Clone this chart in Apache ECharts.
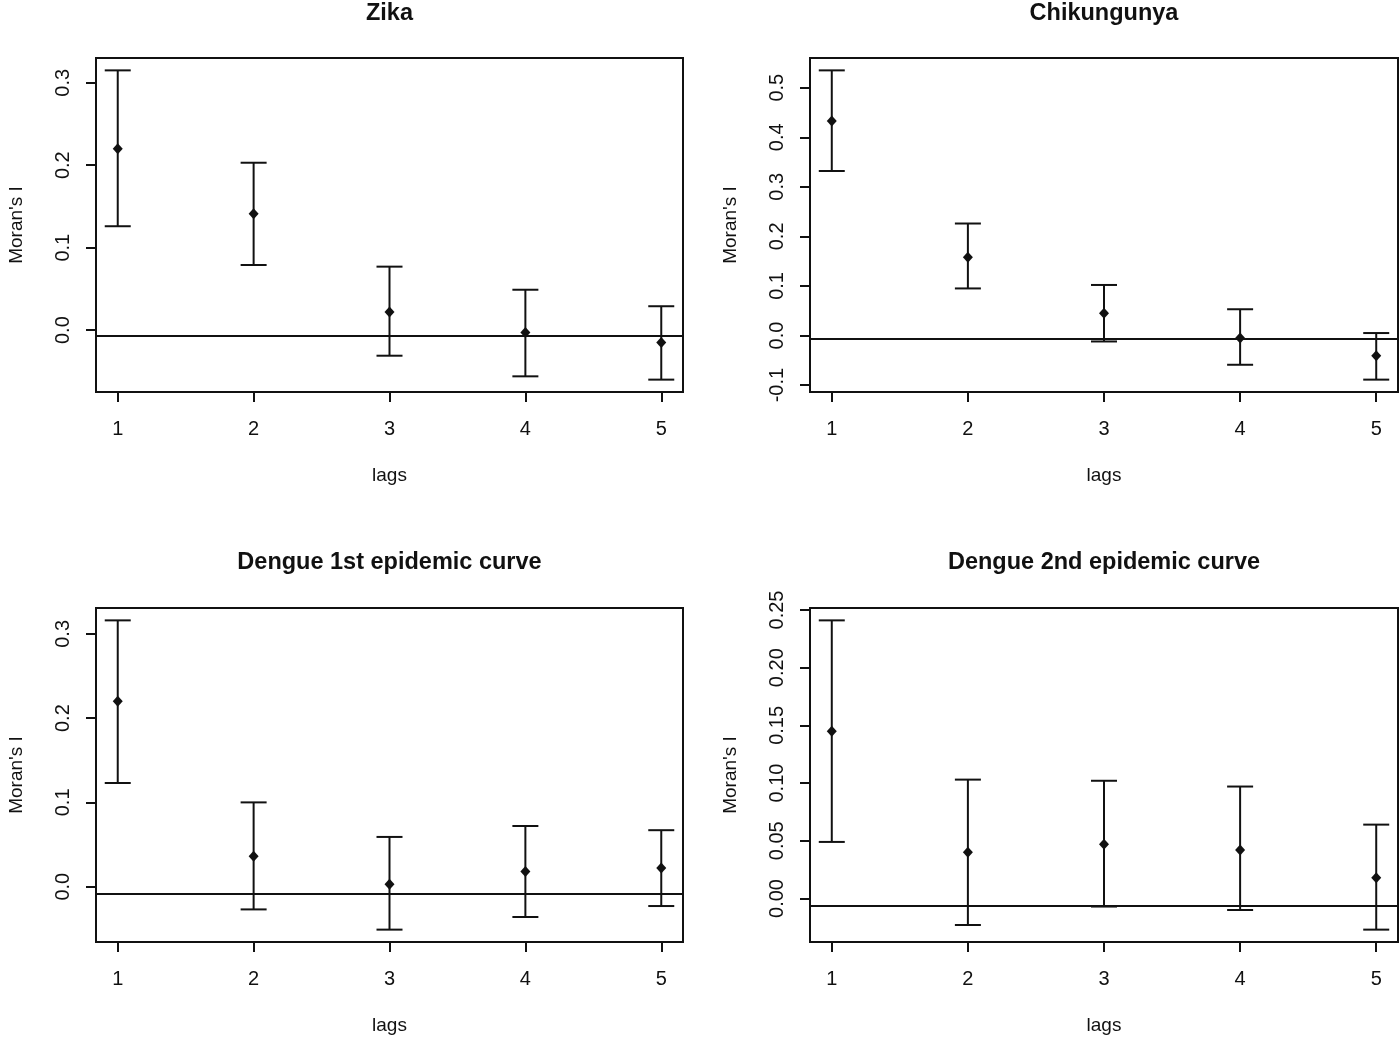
<!DOCTYPE html>
<html>
<head>
<meta charset="utf-8">
<script src="https://cdn.jsdelivr.net/npm/echarts@6/dist/echarts.min.js"></script>
<style>
html,body{margin:0;padding:0;background:#fff;}
#chart{width:1400px;height:1041px;}
</style>
</head>
<body>
<div id="chart"></div>
<script>
// ---- data ----
const lags = [1, 2, 3, 4, 5];

const panelTitles = ["Zika", "Chikungunya", "Dengue 1st epidemic curve", "Dengue 2nd epidemic curve"];

const zikaI  = [0.220, 0.141, 0.022, -0.003, -0.015];
const zikaLo = [0.126, 0.079, -0.031, -0.056, -0.060];
const zikaHi = [0.315, 0.203, 0.077, 0.049, 0.029];

const chikI  = [0.433, 0.158, 0.045, -0.005, -0.041];
const chikLo = [0.332, 0.095, -0.012, -0.059, -0.089];
const chikHi = [0.535, 0.226, 0.102, 0.053, 0.005];

const d1I  = [0.220, 0.036, 0.003, 0.018, 0.022];
const d1Lo = [0.123, -0.027, -0.051, -0.036, -0.023];
const d1Hi = [0.316, 0.100, 0.059, 0.072, 0.067];

const d2I  = [0.145, 0.040, 0.047, 0.042, 0.018];
const d2Lo = [0.049, -0.023, -0.007, -0.010, -0.027];
const d2Hi = [0.241, 0.103, 0.102, 0.097, 0.064];

const expectedI = [-0.0065, -0.0067, -0.0079, -0.0061];

const zikaTicks = [0, 0.1, 0.2, 0.3];
const chikTicks = [-0.1, 0, 0.1, 0.2, 0.3, 0.4, 0.5];
const d1Ticks   = [0, 0.1, 0.2, 0.3];
const d2Ticks   = [0, 0.05, 0.10, 0.15, 0.20, 0.25];
const tickDecimals = [1, 1, 1, 2];

const xLabel = "lags";
const yLabel = "Moran's I";

// ---- layout / styles ----
const FONT = "Liberation Sans, Arial, sans-serif";
const INK = "#111";
const grids = [
  {left: 96,  top: 58,  width: 587, height: 334},
  {left: 810, top: 58,  width: 588, height: 334},
  {left: 96,  top: 608, width: 587, height: 334},
  {left: 810, top: 608, width: 588, height: 334}
];
const titleTops = [2, 2, 551, 551];

const panels = [
  {I: zikaI, lo: zikaLo, hi: zikaHi, ticks: zikaTicks},
  {I: chikI, lo: chikLo, hi: chikHi, ticks: chikTicks},
  {I: d1I,   lo: d1Lo,   hi: d1Hi,   ticks: d1Ticks},
  {I: d2I,   lo: d2Lo,   hi: d2Hi,   ticks: d2Ticks}
];

function extendRange(lo, hi) {
  const span = hi - lo;
  return [lo - 0.04 * span, hi + 0.04 * span];
}

const xr = extendRange(Math.min.apply(null, lags), Math.max.apply(null, lags));

const option = {
  backgroundColor: "#fff",
  animation: false,
  title: [],
  grid: [],
  xAxis: [],
  yAxis: [],
  series: []
};

panels.forEach(function (p, i) {
  const g = grids[i];
  option.grid.push({
    left: g.left, top: g.top, width: g.width, height: g.height,
    show: true, borderColor: INK, borderWidth: 2, backgroundColor: "transparent",
    containLabel: false
  });
  option.title.push({
    text: panelTitles[i],
    left: g.left + g.width / 2,
    top: titleTops[i],
    textAlign: "center",
    padding: 0,
    textStyle: {fontFamily: FONT, fontSize: 23.5, fontWeight: "bold", color: INK}
  });
  option.xAxis.push({
    type: "value", gridIndex: i, min: xr[0], max: xr[1], position: "bottom",
    name: xLabel, nameLocation: "middle", nameGap: 74,
    nameTextStyle: {fontFamily: FONT, fontSize: 19, color: INK},
    axisLine: {show: false, onZero: false},
    axisTick: {show: true, inside: false, length: 10, customValues: lags, lineStyle: {color: INK, width: 2}},
    axisLabel: {show: true, customValues: lags, margin: 27, fontFamily: FONT, fontSize: 20, color: INK,
      formatter: function (v) { return String(Math.round(v)); }},
    splitLine: {show: false}
  });
  const yr = extendRange(Math.min.apply(null, p.lo), Math.max.apply(null, p.hi));
  const dec = tickDecimals[i];
  option.yAxis.push({
    type: "value", gridIndex: i, min: yr[0], max: yr[1], position: "left",
    name: yLabel, nameLocation: "middle", nameGap: 70, nameRotate: 90,
    nameTextStyle: {fontFamily: FONT, fontSize: 19, color: INK},
    axisLine: {show: false, onZero: false},
    axisTick: {show: true, inside: false, length: 10, customValues: p.ticks, lineStyle: {color: INK, width: 2}},
    axisLabel: {show: true, customValues: p.ticks, rotate: 90, margin: 23, fontFamily: FONT, fontSize: 20, color: INK,
      formatter: function (v) { return Number(v).toFixed(dec); }},
    splitLine: {show: false}
  });

  const barData = lags.map(function (x, k) { return [x, p.lo[k], p.hi[k]]; });
  option.series.push({
    type: "custom", xAxisIndex: i, yAxisIndex: i, data: barData, silent: true,
    renderItem: function (params, api) {
      const x = api.value(0);
      const a = api.coord([x, api.value(1)]);
      const b = api.coord([x, api.value(2)]);
      const half = 13;
      const st = {stroke: INK, lineWidth: 2};
      return {
        type: "group",
        children: [
          {type: "line", shape: {x1: a[0], y1: a[1], x2: b[0], y2: b[1]}, style: st},
          {type: "line", shape: {x1: a[0] - half, y1: a[1], x2: a[0] + half, y2: a[1]}, style: st},
          {type: "line", shape: {x1: b[0] - half, y1: b[1], x2: b[0] + half, y2: b[1]}, style: st}
        ]
      };
    },
    z: 3
  });
  option.series.push({
    type: "scatter", xAxisIndex: i, yAxisIndex: i, silent: true,
    data: lags.map(function (x, k) { return [x, p.I[k]]; }),
    symbol: "diamond", symbolSize: [10, 11],
    itemStyle: {color: INK, opacity: 1},
    z: 4,
    markLine: {
      silent: true, symbol: ["none", "none"], label: {show: false},
      precision: 6,
      lineStyle: {color: INK, width: 2, type: "solid", opacity: 1},
      data: [{yAxis: expectedI[i]}]
    }
  });
});

const chart = echarts.init(document.getElementById("chart"), null, {renderer: "canvas"});
chart.setOption(option);
</script>
</body>
</html>
